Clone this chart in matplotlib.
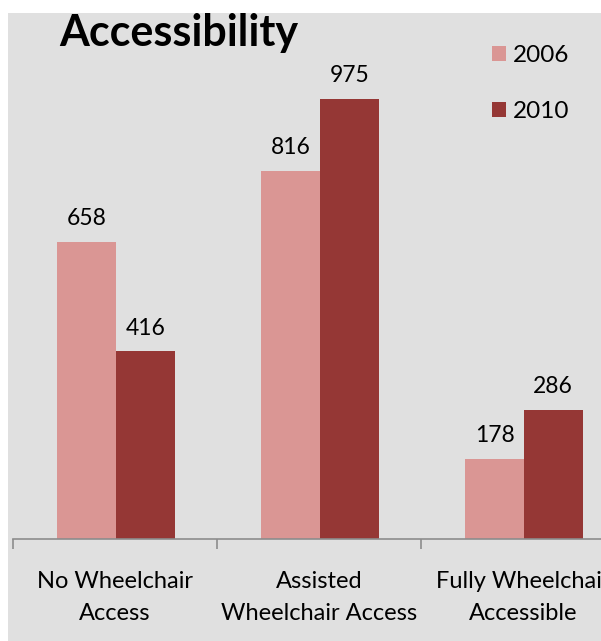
import matplotlib
matplotlib.use('Agg')
import matplotlib.pyplot as plt
import numpy as np
from matplotlib.patches import Rectangle, Patch

categories = ['No Wheelchair\nAccess', 'Assisted\nWheelchair Access', 'Fully Wheelchair\nAccessible']
years = ['2006', '2010']
counts_2006 = [658, 816, 178]
counts_2010 = [416, 975, 286]
colors = ['#DA9694', '#953735']

plt.rcParams['font.family'] = ['Lato', 'DejaVu Sans']

W, H = 601, 641
fig = plt.figure(figsize=(W / 100, H / 100), dpi=100, facecolor='white')

# gray panel behind the chart
fig.patches.append(Rectangle((8 / W, 0), 1, 1 - 13 / H, transform=fig.transFigure,
                             facecolor='#E0E0E0', edgecolor='none', zorder=-1))

# axes run past the right edge, so the last group is cut off
base_y = 539
left_px, right_px = 13, 625
ax = fig.add_axes([left_px / W, (H - base_y) / H, (right_px - left_px) / W, (base_y - 13) / H])
ax.set_facecolor('none')
ax.set_zorder(1)

x = np.arange(len(categories))
bw = 0.287
b1 = ax.bar(x - bw / 2 + 0.005, counts_2006, bw, color=colors[0], label=years[0])
b2 = ax.bar(x + bw / 2 + 0.005, counts_2010, bw, color=colors[1], label=years[1])

for bars, vals in ((b1, counts_2006), (b2, counts_2010)):
    for rect, v in zip(bars, vals):
        ax.annotate(str(v), (rect.get_x() + rect.get_width() / 2, v),
                    xytext=(0, 9), textcoords='offset points',
                    ha='center', va='bottom', fontsize=16.5)

ax.set_xlim(-0.5, 2.5)
ax.set_ylim(0, 1165)
for s in ('top', 'right', 'left'):
    ax.spines[s].set_visible(False)
ax.spines['bottom'].set_color('#8C8C8C')
ax.spines['bottom'].set_linewidth(1.2)
ax.set_yticks([])

ax.set_xticks([-0.5, 0.5, 1.5, 2.5])
ax.set_xticklabels([])
ax.tick_params(axis='x', which='major', length=7, width=1.2, color='#8C8C8C', direction='out')
ax.set_xticks(x, minor=True)
ax.set_xticklabels(categories, minor=True, fontsize=17, linespacing=1.66)
ax.tick_params(axis='x', which='minor', length=0, pad=23)

fig.text(59 / W, 1 - 33 / H, 'Accessibility', fontsize=31, fontweight='bold',
         ha='left', va='center')

handles = [Patch(facecolor=c, label=y) for c, y in zip(colors, years)]
fig.legend(handles=handles, loc='upper left', bbox_to_anchor=(470 / W, 1 - 23 / H),
           frameon=False, fontsize=17.5, handlelength=0.58, handleheight=0.58,
           handletextpad=0.3, labelspacing=1.45)

fig.savefig('out.png', dpi=100, facecolor='white')
